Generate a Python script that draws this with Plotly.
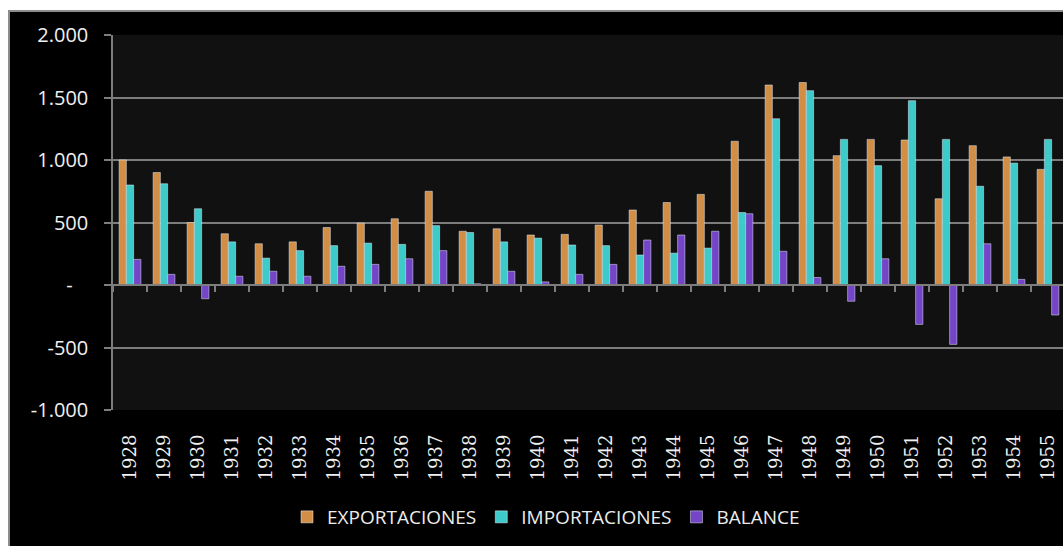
import plotly.graph_objects as go

years = [str(y) for y in range(1928, 1956)]
exportaciones = [1000, 900, 500, 410, 330, 345, 460, 495, 530, 750, 430, 450, 400, 405,
                 480, 600, 660, 725, 1150, 1600, 1620, 1035, 1165, 1160, 690, 1115, 1025, 925]
importaciones = [800, 810, 610, 345, 215, 275, 315, 335, 325, 475, 420, 345, 375, 320,
                 315, 240, 255, 295, 580, 1330, 1555, 1165, 955, 1475, 1165, 790, 975, 1165]
balance = [205, 85, -110, 70, 110, 70, 150, 165, 210, 275, 10, 110, 25, 85,
           165, 360, 400, 430, 570, 270, 60, -130, 210, -315, -475, 330, 45, -240]

y_tickvals = [-1000, -500, 0, 500, 1000, 1500, 2000]
y_ticktext = ["-1.000", "-500", "-\u00a0\u00a0\u00a0", "500", "1.000", "1.500", "2.000"]

W, H = 1063, 546
ML, MR, MT, MB = 113, 0, 35, 136
PW, PH = W - ML - MR, H - MT - MB

def px_x(p):
    return (p - ML) / PW

def px_y(p):
    return (H - MB - p) / PH

fig = go.Figure()
fig.add_trace(go.Bar(name="EXPORTACIONES", x=years, y=exportaciones, marker_color="#D38E45"))
fig.add_trace(go.Bar(name="IMPORTACIONES", x=years, y=importaciones, marker_color="#3FCACA"))
fig.add_trace(go.Bar(name="BALANCE", x=years, y=balance, marker_color="#7445C6"))
fig.add_trace(go.Scatter(x=years, y=[None] * len(years), xaxis="x2", mode="lines",
                         showlegend=False, hoverinfo="skip"))

grid = "#7d7d7d"
right_end = PW / 34.0 - 0.5

fig.update_layout(
    width=W, height=H,
    margin=dict(l=ML, r=MR, t=MT, b=MB, pad=0),
    paper_bgcolor="black",
    plot_bgcolor="#111111",
    barmode="group",
    bargap=0.36,
    bargroupgap=0,
    font=dict(family="Open Sans", color="#f0f0f0"),
    xaxis=dict(
        type="category", range=[-0.5, right_end],
        showgrid=False, showline=False, zeroline=False, ticks="",
        tickangle=-90, tickfont=dict(family="DejaVu Serif", size=18, color="#f0f0f0"),
        ticklabelstandoff=20,
    ),
    xaxis2=dict(
        type="category", matches="x", overlaying="x", anchor="free",
        position=1 / 3, showticklabels=False, showgrid=False, showline=True,
        linecolor=grid, linewidth=1.5,
        ticks="outside", tickson="boundaries", ticklen=6, tickcolor=grid, tickwidth=1.5,
    ),
    yaxis=dict(
        range=[-1000, 2000], tickvals=y_tickvals, ticktext=y_ticktext,
        showgrid=True, gridcolor=grid, gridwidth=1.5,
        zeroline=True, zerolinecolor=grid, zerolinewidth=1.5,
        showline=True, linecolor=grid, linewidth=1.5,
        ticks="outside", ticklen=7, tickcolor=grid, tickwidth=1.5,
        tickfont=dict(family="Open Sans", size=20, color="#f0f0f0"),
        ticklabelstandoff=12,
    ),
    legend=dict(
        orientation="h", x=px_x(546), xanchor="center", y=px_y(517), yanchor="middle",
        font=dict(family="Open Sans", size=19, color="#ececec"),
        bgcolor="rgba(0,0,0,0)", itemwidth=30,
    ),
    shapes=[
        dict(type="rect", xref="paper", yref="paper", x0=px_x(-2), x1=px_x(8), y0=px_y(H + 2), y1=px_y(-2),
             fillcolor="white", line=dict(width=0), layer="above"),
        dict(type="rect", xref="paper", yref="paper", x0=px_x(-2), x1=px_x(W + 2), y0=px_y(10), y1=px_y(-2),
             fillcolor="white", line=dict(width=0), layer="above"),
        dict(type="line", xref="paper", yref="paper", x0=px_x(9), x1=px_x(9), y0=px_y(10), y1=px_y(H + 2),
             line=dict(color="#8c8c8c", width=2), layer="above"),
        dict(type="line", xref="paper", yref="paper", x0=px_x(8), x1=px_x(W + 2), y0=px_y(11), y1=px_y(11),
             line=dict(color="#8c8c8c", width=2), layer="above"),
    ],
)

fig.write_html("out.html")
